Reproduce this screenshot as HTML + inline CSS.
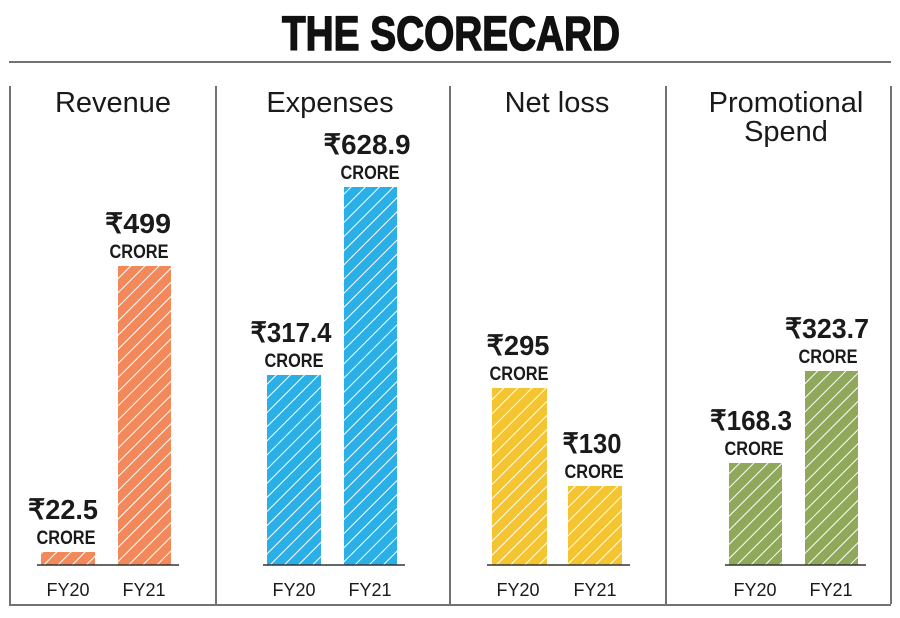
<!DOCTYPE html>
<html><head><meta charset="utf-8"><style>
html,body{margin:0;padding:0;background:#fff;}
svg{display:block;}
text{font-family:"Liberation Sans",sans-serif;fill:#1a1a1a;}
.v{font-weight:bold;font-size:28px;}
.c{font-weight:bold;font-size:19px;}
.h{font-size:29px;}
.fy{font-size:18px;}
</style></head><body>
<svg width="900" height="618" viewBox="0 0 900 618" xmlns="http://www.w3.org/2000/svg">
<defs>
<pattern id="hatch" width="10" height="10" patternUnits="userSpaceOnUse" patternTransform="rotate(45)">
<rect x="0" y="0" width="1" height="10" fill="#fff"/>
</pattern>
</defs>
<rect width="900" height="618" fill="#fff"/>
<text x="451" y="50" text-anchor="middle" font-size="48" font-weight="900" textLength="338" lengthAdjust="spacingAndGlyphs" style="fill:#111;stroke:#111;stroke-width:1.5">THE SCORECARD</text>
<line x1="9" y1="62" x2="891" y2="62" stroke="#444" stroke-width="1.5"/>
<line x1="9" y1="605" x2="891" y2="605" stroke="#444" stroke-width="1.5"/>
<g stroke="#444" stroke-width="1.5">
<line x1="10" y1="86" x2="10" y2="604"/>
<line x1="216" y1="86" x2="216" y2="604"/>
<line x1="450" y1="86" x2="450" y2="604"/>
<line x1="666" y1="86" x2="666" y2="604"/>
<line x1="891" y1="86" x2="891" y2="604"/>
</g>
<text class="h" x="113" y="112" text-anchor="middle">Revenue</text>
<text class="h" x="330" y="112" text-anchor="middle">Expenses</text>
<text class="h" x="557" y="112" text-anchor="middle">Net loss</text>
<text class="h" x="786" y="112" text-anchor="middle">Promotional</text>
<text class="h" x="786" y="141" text-anchor="middle">Spend</text>

<g>
<rect x="41" y="552" width="54" height="13" fill="#f3895a"/><rect x="41" y="552" width="54" height="13" fill="url(#hatch)"/>
<rect x="118" y="266" width="53" height="299" fill="#f3895a"/><rect x="118" y="266" width="53" height="299" fill="url(#hatch)"/>
<rect x="267" y="375" width="54" height="190" fill="#2ab0e6"/><rect x="267" y="375" width="54" height="190" fill="url(#hatch)"/>
<rect x="344" y="187" width="53" height="378" fill="#2ab0e6"/><rect x="344" y="187" width="53" height="378" fill="url(#hatch)"/>
<rect x="492" y="388" width="55" height="177" fill="#f5c431"/><rect x="492" y="388" width="55" height="177" fill="url(#hatch)"/>
<rect x="568" y="486" width="54" height="79" fill="#f5c431"/><rect x="568" y="486" width="54" height="79" fill="url(#hatch)"/>
<rect x="729" y="463" width="53" height="102" fill="#8fa85a"/><rect x="729" y="463" width="53" height="102" fill="url(#hatch)"/>
<rect x="805" y="371" width="53" height="194" fill="#8fa85a"/><rect x="805" y="371" width="53" height="194" fill="url(#hatch)"/>
</g>
<g stroke="#333" stroke-width="1.5">
<line x1="37" y1="565" x2="179" y2="565"/>
<line x1="263" y1="565" x2="405" y2="565"/>
<line x1="487" y1="565" x2="630" y2="565"/>
<line x1="725" y1="565" x2="866" y2="565"/>
</g>

<text class="v" x="63" y="519" text-anchor="middle" textLength="70" lengthAdjust="spacingAndGlyphs">₹22.5</text>
<text class="c" x="66" y="544" text-anchor="middle" textLength="59" lengthAdjust="spacingAndGlyphs">CRORE</text>
<text class="v" x="138" y="233" text-anchor="middle" textLength="66" lengthAdjust="spacingAndGlyphs">₹499</text>
<text class="c" x="139" y="258" text-anchor="middle" textLength="59" lengthAdjust="spacingAndGlyphs">CRORE</text>

<text class="v" x="291" y="342" text-anchor="middle" textLength="81" lengthAdjust="spacingAndGlyphs">₹317.4</text>
<text class="c" x="294" y="367" text-anchor="middle" textLength="59" lengthAdjust="spacingAndGlyphs">CRORE</text>
<text class="v" x="367" y="154" text-anchor="middle" textLength="87" lengthAdjust="spacingAndGlyphs">₹628.9</text>
<text class="c" x="370" y="179" text-anchor="middle" textLength="59" lengthAdjust="spacingAndGlyphs">CRORE</text>

<text class="v" x="518" y="355" text-anchor="middle" textLength="63" lengthAdjust="spacingAndGlyphs">₹295</text>
<text class="c" x="519" y="380" text-anchor="middle" textLength="59" lengthAdjust="spacingAndGlyphs">CRORE</text>
<text class="v" x="592" y="453" text-anchor="middle" textLength="59" lengthAdjust="spacingAndGlyphs">₹130</text>
<text class="c" x="594" y="478" text-anchor="middle" textLength="59" lengthAdjust="spacingAndGlyphs">CRORE</text>

<text class="v" x="751" y="430" text-anchor="middle" textLength="82" lengthAdjust="spacingAndGlyphs">₹168.3</text>
<text class="c" x="754" y="455" text-anchor="middle" textLength="59" lengthAdjust="spacingAndGlyphs">CRORE</text>
<text class="v" x="827" y="338" text-anchor="middle" textLength="84" lengthAdjust="spacingAndGlyphs">₹323.7</text>
<text class="c" x="828" y="363" text-anchor="middle" textLength="59" lengthAdjust="spacingAndGlyphs">CRORE</text>

<text class="fy" x="68" y="596" text-anchor="middle">FY20</text>
<text class="fy" x="144" y="596" text-anchor="middle">FY21</text>
<text class="fy" x="294" y="596" text-anchor="middle">FY20</text>
<text class="fy" x="370" y="596" text-anchor="middle">FY21</text>
<text class="fy" x="518" y="596" text-anchor="middle">FY20</text>
<text class="fy" x="595" y="596" text-anchor="middle">FY21</text>
<text class="fy" x="755" y="596" text-anchor="middle">FY20</text>
<text class="fy" x="831" y="596" text-anchor="middle">FY21</text>
</svg>
</body></html>
